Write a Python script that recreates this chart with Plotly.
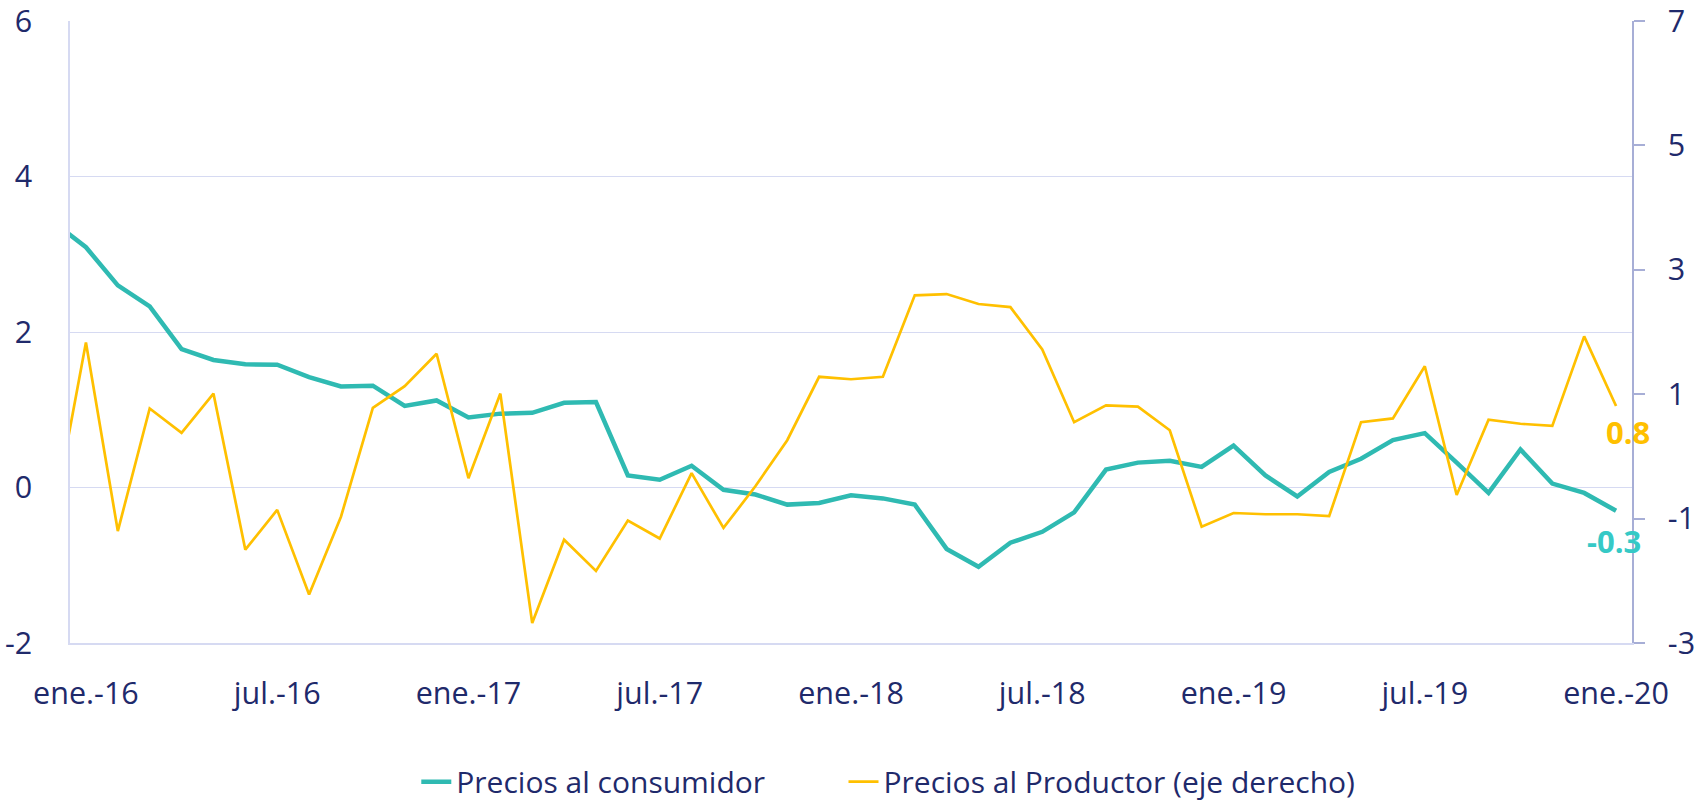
import plotly.graph_objects as go

# Month labels (Spanish abbreviations), from dic.-15 (partly clipped at the left edge) to ene.-20
month_abbr = ["ene.", "feb.", "mar.", "abr.", "may.", "jun.",
              "jul.", "ago.", "sep.", "oct.", "nov.", "dic."]
months = ["dic.-15"] + [f"{m}-{y}" for y in range(16, 20) for m in month_abbr] + ["ene.-20"]

tick_labels = ["ene.-16", "jul.-16", "ene.-17", "jul.-17", "ene.-18",
               "jul.-18", "ene.-19", "jul.-19", "ene.-20"]

left_ticks = [-2, 0, 2, 4, 6]
right_ticks = [-3, -1, 1, 3, 5, 7]

consumidor = [3.41,
              3.09, 2.60, 2.33, 1.78, 1.64, 1.585, 1.58, 1.42, 1.30, 1.31, 1.05, 1.12,
              0.90, 0.95, 0.96, 1.09, 1.10, 0.155, 0.10, 0.28, -0.03, -0.09, -0.22, -0.20,
              -0.10, -0.14, -0.22, -0.79, -1.02, -0.71, -0.57, -0.32, 0.23, 0.32, 0.345, 0.265,
              0.54, 0.155, -0.115, 0.20, 0.37, 0.61, 0.70, 0.32, -0.07, 0.49, 0.05, -0.07,
              -0.30]

productor = [-0.92,
             1.83, -1.20, 0.77, 0.38, 1.01, -1.50, -0.86, -2.22, -0.97, 0.78, 1.13, 1.65,
             -0.35, 1.01, -2.68, -1.34, -1.84, -1.03, -1.32, -0.27, -1.15, -0.48, 0.26, 1.28,
             1.24, 1.28, 2.59, 2.61, 2.45, 2.40, 1.72, 0.55, 0.82, 0.80, 0.42, -1.13,
             -0.91, -0.93, -0.93, -0.96, 0.55, 0.61, 1.45, -0.62, 0.59, 0.525, 0.49, 1.93,
             0.81]

x_idx = list(range(-1, len(months) - 1))   # dic.-15 -> -1, ene.-16 -> 0
tick_pos = [x_idx[months.index(t)] for t in tick_labels]

TEAL = "#2FBAB2"
TEAL_LABEL = "#36C9C6"
GOLD = "#FFC000"
NAVY = "#1F2A6B"
GRID = "#D6DAF2"
RAXIS = "#A7AED6"
FONT = "Open Sans"

fig = go.Figure()
fig.add_trace(go.Scatter(x=x_idx, y=consumidor, mode="lines", name="Precios al consumidor",
                         line=dict(color=TEAL, width=4.5), yaxis="y", legend="legend"))
fig.add_trace(go.Scatter(x=x_idx, y=productor, mode="lines", name="Precios al Productor (eje derecho)",
                         line=dict(color=GOLD, width=2.7), yaxis="y2", legend="legend2"))

fig.add_annotation(x=x_idx[-1], y=consumidor[-1], xref="x", yref="y",
                   text=f"<b>{consumidor[-1]:.1f}</b>", showarrow=False,
                   yshift=-30, xshift=-2, font=dict(family=FONT, size=31, color=TEAL_LABEL))
fig.add_annotation(x=x_idx[-1], y=productor[-1], xref="x", yref="y2",
                   text=f"<b>{productor[-1]:.1f}</b>", showarrow=False,
                   yshift=-26, xshift=12, font=dict(family=FONT, size=31, color=GOLD))

legend_common = dict(orientation="h", y=-0.223, xanchor="left", yanchor="middle",
                     font=dict(family=FONT, size=30, color=NAVY), bgcolor="rgba(0,0,0,0)")

tickfont = dict(family=FONT, size=30.5, color=NAVY)

fig.update_layout(
    width=1704, height=802,
    margin=dict(l=70, r=72, t=21, b=159, autoexpand=False),
    paper_bgcolor="white", plot_bgcolor="white",
    font=dict(family=FONT, size=30, color=NAVY),
    showlegend=True,
    legend=dict(x=0.2217, **legend_common),
    legend2=dict(x=0.4952, **legend_common),
    xaxis=dict(range=[-0.5, 48.5], tickmode="array", tickvals=tick_pos, ticktext=tick_labels,
               showgrid=False, zeroline=False, showline=True, linecolor=GRID, linewidth=1.5,
               ticks="", ticklabelstandoff=23, automargin=False, ticklabeloverflow="allow",
               tickfont=tickfont),
    yaxis=dict(range=[-2, 6], tickmode="array", tickvals=left_ticks,
               ticktext=[str(v) for v in left_ticks],
               showgrid=True, gridcolor=GRID, gridwidth=1.2,
               zeroline=True, zerolinecolor=GRID, zerolinewidth=1.2,
               showline=True, linecolor=GRID, linewidth=1.5, mirror=False,
               ticks="", ticklabelstandoff=30, automargin=False, ticklabeloverflow="allow",
               tickfont=tickfont),
    yaxis2=dict(range=[-3, 7], tickmode="array", tickvals=right_ticks,
                ticktext=[str(v) for v in right_ticks], overlaying="y", side="right",
                showgrid=False, zeroline=False, showline=True, linecolor=RAXIS, linewidth=1.5,
                ticks="outside", ticklen=11, tickcolor=RAXIS, tickwidth=1.5,
                ticklabelstandoff=17, automargin=False, ticklabeloverflow="allow",
                tickfont=tickfont),
)

fig.write_html("out.html", config={"displayModeBar": False},
               post_script="document.body.style.margin='0px';document.body.style.overflow='hidden';")
